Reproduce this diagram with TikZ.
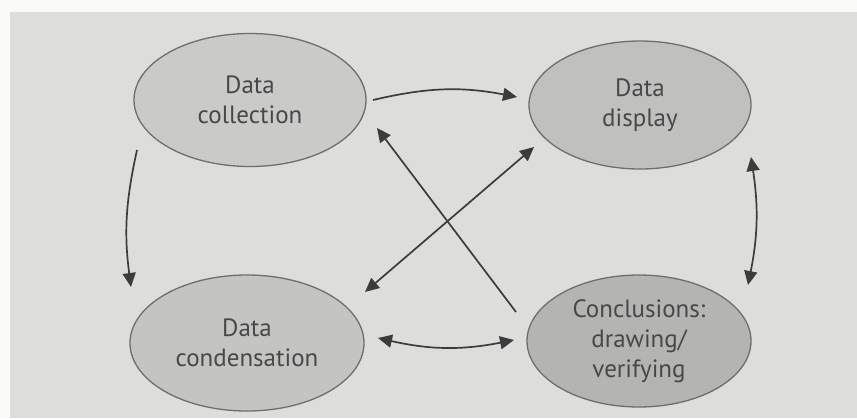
\documentclass[tikz,border=0pt]{standalone}
\usepackage{fontspec}
\setmainfont{PT Sans}
\usetikzlibrary{arrows.meta,calc,shapes.geometric}
\definecolor{paper}{RGB}{221,221,219}
\definecolor{edge}{RGB}{250,250,248}
\definecolor{ink}{RGB}{72,72,72}
\definecolor{rim}{RGB}{110,110,110}
\definecolor{lineink}{RGB}{60,60,60}
\definecolor{fillA}{RGB}{202,202,201}
\definecolor{fillB}{RGB}{192,192,191}
\definecolor{fillC}{RGB}{196,196,195}
\definecolor{fillD}{RGB}{180,180,179}
\tikzset{
  bubble/.style={ellipse, draw=rim, line width=1.3pt, inner sep=0pt, align=center,
    text=ink, font=\fontsize{25}{30}\selectfont},
  link/.style={draw=lineink, line width=1.7pt, -{Triangle[length=14pt,width=13pt]}},
  twolink/.style={draw=lineink, line width=1.7pt, {Triangle[length=14pt,width=13pt]}-{Triangle[length=14pt,width=13pt]}}
}
\begin{document}
\begin{tikzpicture}[x=1pt,y=-1pt]
\fill[edge] (0,0) rectangle (857,418);
\fill[paper] (10,12) rectangle (857,418);
\useasboundingbox (0,0) rectangle (857,418);

\node[bubble, fill=fillA, minimum width=232pt, minimum height=133pt] (coll) at (250,100) {Data\\collection};
\node[bubble, fill=fillB, minimum width=222pt, minimum height=128pt] (disp) at (640,105) {Data\\display};
\node[bubble, fill=fillC, minimum width=234pt, minimum height=136pt] (cond) at (247,343) {Data\\condensation};
\node[bubble, fill=fillD, minimum width=224pt, minimum height=132pt] (conc) at (639,341) {Conclusions:\\drawing/\\verifying};

% connector end points, placed relative to the nodes
\coordinate (a1s) at ($(coll)+(123,0)$);
\coordinate (a1e) at ($(disp)+(-123,-8)$);
\coordinate (a2s) at ($(coll)+(-113,50)$);
\coordinate (a2e) at ($(cond)+(-116,-56)$);
\coordinate (a3s) at ($(disp)+(111,52)$);
\coordinate (a3e) at ($(conc)+(109,-56)$);
\coordinate (a4s) at ($(cond)+(131,-5)$);
\coordinate (a4e) at ($(conc)+(-125,-1)$);
\coordinate (a5s) at ($(conc)+(-123,-29)$);
\coordinate (a5e) at ($(coll)+(127,28)$);
\coordinate (a6s) at ($(disp)+(-106,42)$);
\coordinate (a6e) at ($(cond)+(118,-51)$);

\draw[link] (a1s) to[bend left=12] (a1e);
\draw[link] (a2s) to[bend right=10] (a2e);
\draw[twolink] (a3s) to[bend left=10] (a3e);
\draw[twolink] (a4s) to[bend right=12] (a4e);
\draw[link] (a5s) -- (a5e);
\draw[twolink] (a6s) -- (a6e);
\end{tikzpicture}
\end{document}
